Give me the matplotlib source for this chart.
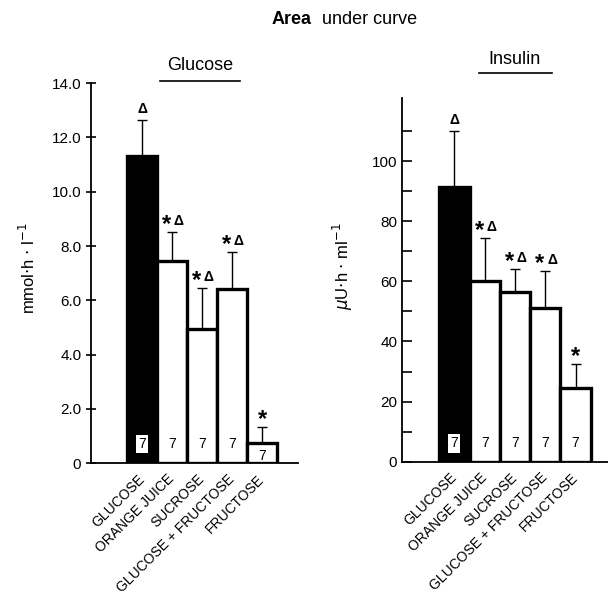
import matplotlib.pyplot as plt

meals = ['GLUCOSE', 'ORANGE JUICE', 'SUCROSE', 'GLUCOSE + FRUCTOSE', 'FRUCTOSE']
n_subjects = [7, 7, 7, 7, 7]

glucose_auc = [11.3, 7.45, 4.95, 6.42, 0.75]
glucose_sem = [1.33, 1.07, 1.5, 1.36, 0.58]
glucose_marks = ['\u0394', '*\u0394', '*\u0394', '*\u0394', '*']

insulin_auc = [91.5, 60.0, 56.6, 51.0, 24.5]
insulin_sem = [18.5, 14.5, 7.5, 12.4, 8.0]
insulin_marks = ['\u0394', '*\u0394', '*\u0394', '*\u0394', '*']

plt.rcParams['font.family'] = ['Liberation Sans', 'DejaVu Sans']

fig = plt.figure(figsize=(6.08, 6.07), dpi=100)


def put_mark(ax, x, y, mark):
    # asterisk drawn larger than the triangle, as in the print
    if mark == '\u0394':
        ax.annotate(mark, (x, y), xytext=(0, 3), textcoords='offset points',
                    ha='center', va='bottom', fontsize=10, fontweight='bold')
    elif mark == '*':
        ax.annotate('*', (x, y), xytext=(0, -3), textcoords='offset points',
                    ha='center', va='bottom', fontsize=17, fontweight='bold')
    else:
        ax.annotate('*', (x, y), xytext=(-4, -3), textcoords='offset points',
                    ha='center', va='bottom', fontsize=17, fontweight='bold')
        ax.annotate('\u0394', (x, y), xytext=(5, 3), textcoords='offset points',
                    ha='center', va='bottom', fontsize=10, fontweight='bold')


def draw_panel(ax, values, errs, marks, ymax, yticks, yticklabels, xlim, tickdir, minor):
    x = list(range(len(values)))
    colors = ['black'] + ['white'] * (len(values) - 1)
    ax.bar(x, values, width=1.0, color=colors, edgecolor='black', linewidth=2.4, zorder=2)
    ax.errorbar(x, values, yerr=[[0] * len(errs), errs], fmt='none', ecolor='black',
                elinewidth=1.0, capsize=3.5, capthick=1.0, zorder=1)
    for i, v in enumerate(values):
        put_mark(ax, i, v + errs[i], marks[i])
        if v > ymax * 0.1:
            ny = ymax * 0.05
        else:
            ny = ymax * 0.02
        if i == 0:
            ax.text(i, ny, str(n_subjects[i]), ha='center', va='center', fontsize=10,
                    color='black', bbox=dict(boxstyle='square,pad=0.15', fc='white', ec='none'))
        else:
            ax.text(i, ny, str(n_subjects[i]), ha='center', va='center', fontsize=10)
    ax.set_xlim(*xlim)
    ax.set_ylim(0, ymax)
    ax.set_yticks(yticks)
    ax.set_yticklabels(yticklabels, fontsize=11)
    if minor:
        ax.set_yticks(minor, minor=True)
    ax.tick_params(axis='y', which='both', direction=tickdir, length=7, width=1.2)
    ax.set_xticks(x)
    ax.set_xticklabels(meals, rotation=45, ha='right', va='center', rotation_mode='anchor', fontsize=10)
    ax.tick_params(axis='x', length=0, pad=10)
    for s in ['top', 'right']:
        ax.spines[s].set_visible(False)
    ax.spines['left'].set_linewidth(1.3)
    ax.spines['bottom'].set_linewidth(1.3)


ax1 = fig.add_axes([0.1497, 0.237, 0.3405, 0.626])
draw_panel(ax1, glucose_auc, glucose_sem, glucose_marks, 14.0,
           [0, 2, 4, 6, 8, 10, 12, 14], ['0', '2.0', '4.0', '6.0', '8.0', '10.0', '12.0', '14.0'],
           (-1.7, 5.2), 'inout', None)

ax2 = fig.add_axes([0.6612, 0.2394, 0.3388, 0.5992])
draw_panel(ax2, insulin_auc, insulin_sem, insulin_marks, 121,
           [0, 20, 40, 60, 80, 100], ['0', '20', '40', '60', '80', '100'],
           (-1.73, 5.07), 'in', [10, 30, 50, 70, 90, 110])

fig.text(28 / 608, 1 - 268 / 607, 'mmol$\\cdot$h $\\cdot$ l$^{-1}$', fontsize=12,
         rotation=90, ha='center', va='center')
fig.text(343 / 608, 1 - 266 / 607, '$\\mu$U$\\cdot$h $\\cdot$ ml$^{-1}$', fontsize=12,
         rotation=90, ha='center', va='center')

fig.text(0.512, 1 - 20 / 607, 'Area', fontsize=13, fontweight='bold', ha='right', va='center')
fig.text(0.530, 1 - 20 / 607, 'under curve', fontsize=13, ha='left', va='center')

fig.text(200 / 608, 1 - 66 / 607, 'Glucose', fontsize=13, ha='center', va='center')
fig.add_artist(plt.Line2D([160 / 608, 240 / 608], [1 - 81 / 607, 1 - 81 / 607], color='black', lw=1.2))
fig.text(514 / 608, 1 - 60 / 607, 'Insulin', fontsize=13, ha='center', va='center')
fig.add_artist(plt.Line2D([479 / 608, 552 / 608], [1 - 73 / 607, 1 - 73 / 607], color='black', lw=1.2))

fig.savefig('out.png', dpi=100)
